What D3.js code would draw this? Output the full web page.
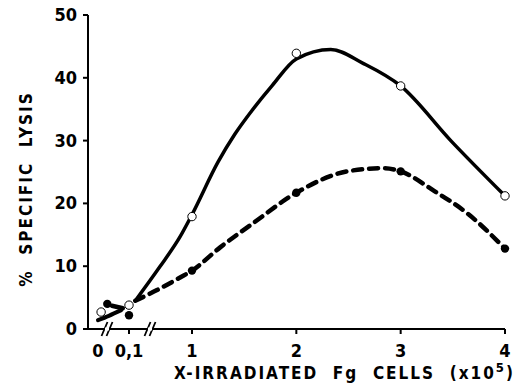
<!DOCTYPE html>
<html>
<head>
<meta charset="utf-8">
<script src="https://cdn.jsdelivr.net/npm/d3@7"></script>
<style>
  body { margin: 0; background: #fff; }
  svg text { font-family: "DejaVu Sans Condensed", "Liberation Sans", sans-serif; font-weight: bold; fill: #000; white-space: pre; }
</style>
</head>
<body>
<div id="chart"></div>
<script>
// x positions of the two cell doses left of the axis break, and the regular doses
const xTickValues = [0, 0.1, 1, 2, 3, 4];
const xTickLabels = ["0", "0,1", "1", "2", "3", "4"];
const yTickValues = [0, 10, 20, 30, 40, 50];

// open circles (solid curve)
const openX = [0.01, 0.1, 1, 2, 3, 4];
const openY = [2.7, 3.8, 17.9, 43.9, 38.7, 21.2];
// filled circles (dashed curve)
const filledX = [0.03, 0.1, 1, 2, 3, 4];
const filledY = [4.0, 2.2, 9.3, 21.7, 25.1, 12.8];

// hand drawn curves
const solidLowX = [0, 0.035, 0.075];
const solidLowY = [1.4, 2.1, 3.0];
const solidMainX = [0.19, 0.54, 0.83, 1, 1.25, 1.41, 1.58, 1.77, 2, 2.33, 2.64, 3, 3.48, 4];
const solidMainY = [4.5, 9.9, 14.7, 18.2, 26.6, 31.0, 34.9, 38.8, 43.0, 44.5, 42.3, 38.7, 30, 21.2];
const dashLowX = [0.045, 0.08];
const dashLowY = [3.7, 3.3];
const dashMainX = [0.19, 0.5, 0.83, 1, 1.27, 1.59, 2, 2.52, 2.84, 3, 3.32, 3.64, 4];
const dashMainY = [4.5, 6.2, 8.2, 9.3, 13.0, 16.9, 21.7, 25.2, 25.6, 25.1, 22.0, 18.4, 12.8];

const W = 519, H = 387;
const svg = d3.select("#chart").append("svg").attr("width", W).attr("height", H);

// broken x axis: piecewise linear
const x = d3.scaleLinear().domain([0, 0.1, 1, 4]).range([98, 129, 192, 505]);
const y = d3.scaleLinear().domain([0, 50]).range([329, 15]);
const axisLeft = 88;

// axes
const g = svg.append("g");
g.append("line").attr("x1", axisLeft).attr("x2", axisLeft).attr("y1", y(50)).attr("y2", y(0))
  .attr("stroke", "#000").attr("stroke-width", 2);
g.append("line").attr("x1", axisLeft).attr("x2", x(4)).attr("y1", y(0)).attr("y2", y(0))
  .attr("stroke", "#000").attr("stroke-width", 2);

g.selectAll(".yt").data(yTickValues).enter().append("line")
  .attr("x1", axisLeft - 5).attr("x2", axisLeft).attr("y1", d => y(d)).attr("y2", d => y(d))
  .attr("stroke", "#000").attr("stroke-width", 2);
g.selectAll(".yl").data(yTickValues).enter().append("text")
  .attr("x", 77).attr("y", d => y(d) + 6).attr("text-anchor", "end")
  .style("font-size", "18px").text(d => d);

g.selectAll(".xt").data(xTickValues.slice(1)).enter().append("line")
  .attr("x1", d => x(d)).attr("x2", d => x(d)).attr("y1", y(0)).attr("y2", y(0) + 5)
  .attr("stroke", "#000").attr("stroke-width", 2);
g.selectAll(".xl").data(xTickValues).enter().append("text")
  .attr("x", d => x(d)).attr("y", 357).attr("text-anchor", "middle")
  .style("font-size", "18px").text((d, i) => xTickLabels[i]);

// break marks
[107, 150].forEach(bx => {
  [-2.5, 2.5].forEach(o => {
    g.append("line").attr("x1", bx + o - 3).attr("x2", bx + o + 3)
      .attr("y1", y(0) + 7).attr("y2", y(0) - 7).attr("stroke", "#000").attr("stroke-width", 1.8);
  });
  g.append("rect").attr("x", bx - 2).attr("y", y(0) - 1.5).attr("width", 4).attr("height", 3).attr("fill", "#fff");
});

// axis titles
const xt = svg.append("text").attr("x", 515).attr("y", 379).attr("text-anchor", "end")
  .style("font-size", "17px").style("letter-spacing", "2px");
xt.append("tspan").text("X-IRRADIATED  Fg  CELLS  (x10");
xt.append("tspan").attr("dy", -7).style("font-size", "13px").text("5");
xt.append("tspan").attr("dy", 7).text(")");

svg.append("text").attr("transform", "translate(32," + 189 + ") rotate(-90)")
  .attr("text-anchor", "middle").style("font-size", "17px")
  .style("letter-spacing", "2px")
  .text("%  SPECIFIC  LYSIS");

// curves
const line = d3.line().x(d => x(d[0])).y(d => y(d[1])).curve(d3.curveMonotoneX);
const zip = (a, b) => a.map((v, i) => [v, b[i]]);

svg.append("path").datum(zip(solidLowX, solidLowY)).attr("d", line)
  .attr("fill", "none").attr("stroke", "#000").attr("stroke-width", 4).attr("stroke-linecap", "round");
svg.append("path").datum(zip(solidMainX, solidMainY)).attr("d", line)
  .attr("fill", "none").attr("stroke", "#000").attr("stroke-width", 3.5).attr("stroke-linecap", "round");
svg.append("path").datum(zip(dashLowX, dashLowY)).attr("d", line)
  .attr("fill", "none").attr("stroke", "#000").attr("stroke-width", 4.5).attr("stroke-linecap", "round");
svg.append("path").datum(zip(dashMainX, dashMainY)).attr("d", line)
  .attr("fill", "none").attr("stroke", "#000").attr("stroke-width", 4.5)
  .attr("stroke-dasharray", "9,7").attr("stroke-linecap", "round");

// points
svg.selectAll(".filled").data(zip(filledX, filledY)).enter().append("circle")
  .attr("cx", d => x(d[0])).attr("cy", d => y(d[1])).attr("r", 4.2).attr("fill", "#000");
svg.selectAll(".open").data(zip(openX, openY)).enter().append("circle")
  .attr("cx", d => x(d[0])).attr("cy", d => y(d[1])).attr("r", 4.2)
  .attr("fill", "#fff").attr("stroke", "#000").attr("stroke-width", 1);
</script>
</body>
</html>
